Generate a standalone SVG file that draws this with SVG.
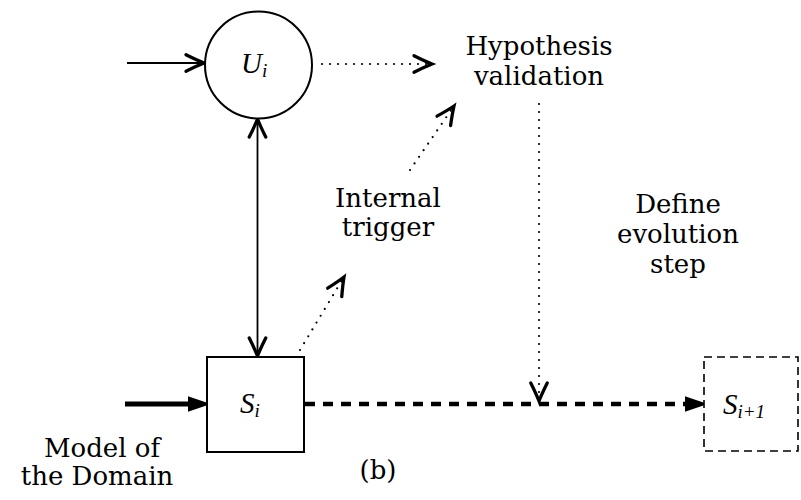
<svg xmlns="http://www.w3.org/2000/svg" width="801" height="500" viewBox="0 0 801 500">
<style>
.lbl{font-family:"DejaVu Serif","Liberation Serif",serif;font-size:26px;text-anchor:middle;fill:#000}
.m{font-family:"Liberation Serif","DejaVu Serif",serif;font-style:italic;font-size:29px;fill:#000}
.sub{font-size:19px}
.node{fill:#fff;stroke:#000;stroke-width:2}
.solid{fill:none;stroke:#000;stroke-width:1.8}
.dot{fill:none;stroke:#000;stroke-width:2.2;stroke-linecap:round;stroke-dasharray:0 8}
.thick{fill:none;stroke:#000;stroke-width:5}
.dash{fill:none;stroke:#000;stroke-width:4.5;stroke-dasharray:10 8}
</style>
<defs>
<marker id="open" markerUnits="userSpaceOnUse" markerWidth="24" markerHeight="24" viewBox="-14 -8 16 16" refX="0" refY="0" orient="auto-start-reverse" overflow="visible">
<path d="M-12,-5.5 Q-5,-2 0,0 Q-5,2 -12,5.5" fill="none" stroke="#000" stroke-width="2.2" stroke-dasharray="none" stroke-linecap="round"/>
</marker>
<marker id="fill" markerUnits="userSpaceOnUse" markerWidth="24" markerHeight="24" viewBox="0 -8 20 16" refX="0" refY="0" orient="auto" overflow="visible">
<path d="M0,-6.5 L19,0 L0,6.5 Z" fill="#000" stroke="none"/>
</marker>
</defs>

<g id="connectors">
<line class="solid" x1="127" y1="63" x2="204" y2="63" marker-end="url(#open)"/>
<line class="dot" x1="322" y1="64" x2="432" y2="64" marker-end="url(#open)"/>
<line class="solid" x1="257.5" y1="119" x2="257.5" y2="356" marker-start="url(#open)" marker-end="url(#open)"/>
<line class="dot" x1="300" y1="350" x2="344" y2="277" marker-end="url(#open)"/>
<line class="dot" x1="410" y1="170" x2="454" y2="106" marker-end="url(#open)"/>
<line class="dot" x1="539" y1="104" x2="539" y2="401" marker-end="url(#open)"/>
<line class="thick" x1="125" y1="404" x2="188" y2="404" marker-end="url(#fill)"/>
<line class="dash" x1="305" y1="404" x2="685" y2="404" marker-end="url(#fill)"/>
</g>

<g id="U">
<circle class="node" cx="258.5" cy="65" r="53.5"/>
<text class="m" x="241" y="73">U<tspan class="sub" dy="4">i</tspan></text>
</g>

<g id="S">
<rect class="node" x="207" y="357" width="97" height="95"/>
<text class="m" x="240" y="413">S<tspan class="sub" dy="4">i</tspan></text>
</g>

<g id="S_next">
<rect x="704" y="357" width="94" height="94" fill="#fff" stroke="#000" stroke-width="1.6" stroke-dasharray="8 5"/>
<text class="m" x="723" y="414">S<tspan class="sub" dy="4">i+1</tspan></text>
</g>

<g id="hypothesis">
<text class="lbl" x="539" y="55">Hypothesis</text>
<text class="lbl" x="539" y="85">validation</text>
</g>

<g id="trigger">
<text class="lbl" x="388" y="207">Internal</text>
<text class="lbl" x="388" y="236">trigger</text>
</g>

<g id="define">
<text class="lbl" x="678" y="213">Define</text>
<text class="lbl" x="678" y="243">evolution</text>
<text class="lbl" x="678" y="273">step</text>
</g>

<g id="model">
<text class="lbl" x="102" y="457">Model of</text>
<text class="lbl" x="97" y="485">the Domain</text>
</g>

<text class="lbl" x="378" y="479">(b)</text>
</svg>
